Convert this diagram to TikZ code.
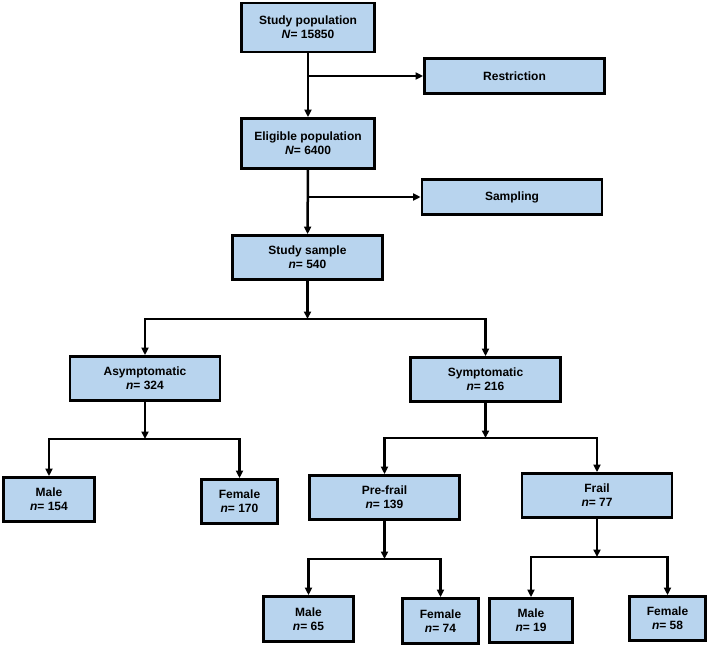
\documentclass[tikz,border=0pt]{standalone}
\usepackage{fontspec}
\setmainfont{Liberation Sans}
\usetikzlibrary{arrows.meta, positioning, calc}
\definecolor{boxblue}{RGB}{184,212,238}

\begin{document}
\begin{tikzpicture}[x=1pt, y=-1pt, ->, >={Triangle[length=7.5pt, width=7pt]}, line width=2.5pt,
    box/.style={draw, fill=boxblue, line width=2.8pt, align=center, inner sep=0pt,
                font=\bfseries\fontsize{12}{14}\selectfont},
    wide/.style={box, minimum width=150pt, minimum height=44pt},
    side/.style={box, minimum width=180pt, minimum height=35pt}]
    \useasboundingbox (0,0) rectangle (708,646);

    % Recruitment
    \node[box, minimum width=133pt, minimum height=49pt] (pop) at (308,27.5) {Study population\\\textit{N}= 15850};
    \node[side] (restr) at (514.5,76) {Restriction};
    \node[box, minimum width=133pt, minimum height=50pt] (elig) at (308,143.5) {Eligible population\\\textit{N}= 6400};
    \node[side] (sampl) at (512,197) {Sampling};
    \node[wide] (sample) at (307.5,257.5) {Study sample\\\textit{n}= 540};
    \path (pop) edge (elig)
          (restr.west -| pop.south) edge (restr)
          (elig) edge (sample)
          (sampl.west -| elig.south) edge (sampl);

    % Symptoms
    \node[wide] (asym) at (145,378.5) {Asymptomatic\\\textit{n}= 324};
    \node[wide] (sym) at (485.5,379.5) {Symptomatic\\\textit{n}= 216};
    \coordinate (j1) at (307.5,319);
    \draw (sample) -- (j1);
    \draw (j1) -| (asym);
    \draw (j1) -| (sym);

    % Asymptomatic by sex
    \node[box, minimum width=91pt, minimum height=44pt] (male1) at (49,499.5) {Male\\\textit{n}= 154};
    \node[box, minimum width=76pt, minimum height=44pt] (fem1) at (239.5,501.5) {Female\\\textit{n}= 170};
    \coordinate (j2) at (145,439);
    \draw (asym) -- (j2);
    \draw (j2) -| (male1);
    \draw (j2) -| (fem1);

    % Frailty
    \node[wide] (pref) at (384.5,497.5) {Pre-frail\\\textit{n}= 139};
    \node[wide] (frail) at (597,495.5) {Frail\\\textit{n}= 77};
    \coordinate (j3) at (485.5,438);
    \draw (sym) -- (j3);
    \draw (j3) -| (pref);
    \draw (j3) -| (frail);

    % Frailty by sex
    \node[box, minimum width=90pt, minimum height=45pt] (male2) at (308.5,619) {Male\\\textit{n}= 65};
    \node[box, minimum width=76pt, minimum height=45pt] (fem2) at (440.5,621) {Female\\\textit{n}= 74};
    \node[box, minimum width=83pt, minimum height=44pt] (male3) at (531,620.5) {Male\\\textit{n}= 19};
    \node[box, minimum width=76pt, minimum height=44pt] (fem3) at (667.5,618.5) {Female\\\textit{n}= 58};
    \coordinate (j4) at (384.5,559);
    \coordinate (j5) at (597,557);
    \draw (pref) -- (j4);
    \draw (j4) -| (male2);
    \draw (j4) -| (fem2);
    \draw (frail) -- (j5);
    \draw (j5) -| (male3);
    \draw (j5) -| (fem3);
\end{tikzpicture}
\end{document}
